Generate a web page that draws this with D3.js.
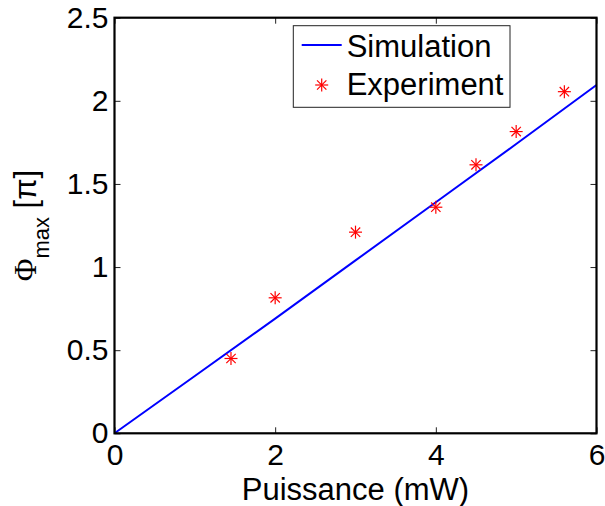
<!DOCTYPE html>
<html><head><meta charset="utf-8">
<script src="https://cdn.jsdelivr.net/npm/d3@7"></script>
<style>body{margin:0;background:#fff;}svg{display:block;}</style>
</head><body>
<svg id="c" width="605" height="506"></svg>
<script>
const simX = [0, 1, 2, 3, 4, 5, 6];
const simY = [0, 0.345, 0.69, 1.04, 1.39, 1.74, 2.095];
const expX = [1.45, 2, 3, 4, 4.5, 5, 5.6];
const expY = [0.45, 0.815, 1.21, 1.36, 1.615, 1.815, 2.055];
const xTicks = [0, 2, 4, 6];
const yTicks = [0, 0.5, 1, 1.5, 2, 2.5];
const xLabel = "Puissance (mW)";
const legendLabels = ["Simulation", "Experiment"];

const svg = d3.select("#c");
const L = 114.5, T = 17.7, R = 596.5, B = 433.3;
const x = d3.scaleLinear().domain([0, 6]).range([L, R]);
const y = d3.scaleLinear().domain([0, 2.5]).range([B, T]);
const font = "'Liberation Sans', Arial, sans-serif";
const fs = 31, tfs = 30;

function styleAxis(g){
  g.select(".domain").remove();
  g.selectAll(".tick line").attr("stroke", "#222").attr("stroke-width", 1);
  g.selectAll("text").attr("font-family", font).attr("font-size", tfs).attr("fill", "#000");
}
const fmt = d => d3.format("")(d);
svg.append("g").attr("transform", `translate(0,${B})`)
  .call(d3.axisBottom(x).tickValues(xTicks).tickFormat(fmt).tickSizeInner(-6).tickSizeOuter(0).tickPadding(10.5))
  .call(styleAxis);
svg.append("g").attr("transform", `translate(0,${T})`)
  .call(d3.axisTop(x).tickValues(xTicks).tickFormat("").tickSizeInner(-6).tickSizeOuter(0))
  .call(styleAxis);
svg.append("g").attr("transform", `translate(${L},0)`)
  .call(d3.axisLeft(y).tickValues(yTicks).tickFormat(fmt).tickSizeInner(-6).tickSizeOuter(0).tickPadding(6))
  .call(styleAxis);
svg.append("g").attr("transform", `translate(${R},0)`)
  .call(d3.axisRight(y).tickValues(yTicks).tickFormat("").tickSizeInner(-6).tickSizeOuter(0))
  .call(styleAxis);

const simData = simX.map((d, i) => [d, simY[i]]);
svg.append("path").datum(simData)
  .attr("fill", "none").attr("stroke", "#0000ff").attr("stroke-width", 2)
  .attr("d", d3.line().x(d => x(d[0])).y(d => y(d[1])));

function star(g, cx, cy, r){
  const s = g.append("g").attr("transform", `translate(${cx},${cy})`)
    .attr("stroke", "#ff0000").attr("stroke-width", 1.2);
  s.append("line").attr("x1", -r).attr("x2", r).attr("y1", 0).attr("y2", 0);
  s.append("line").attr("x1", 0).attr("x2", 0).attr("y1", -r).attr("y2", r);
  const k = r * 0.72;
  s.append("line").attr("x1", -k).attr("x2", k).attr("y1", -k).attr("y2", k);
  s.append("line").attr("x1", -k).attr("x2", k).attr("y1", k).attr("y2", -k);
}
const pts = svg.append("g");
expX.forEach((d, i) => star(pts, x(d), y(expY[i]), 6.5));

svg.append("rect").attr("x", L).attr("y", T).attr("width", R - L).attr("height", B - T)
  .attr("fill", "none").attr("stroke", "#000").attr("stroke-width", 2.2);

svg.append("text").attr("x", (L + R) / 2).attr("y", 500).attr("text-anchor", "middle")
  .attr("font-family", font).attr("font-size", fs).text(xLabel);

const yl = svg.append("text").attr("transform", `translate(36,${(T + B) / 2}) rotate(-90)`)
  .attr("text-anchor", "middle").attr("font-family", font).attr("font-size", fs);
yl.append("tspan").attr("font-family", "'Liberation Serif', 'Times New Roman', serif").text("Φ");
yl.append("tspan").attr("font-size", 22).attr("dy", 13).text("max");
yl.append("tspan").attr("dy", -13).text(" [π]");

const lg = svg.append("g");
lg.append("rect").attr("x", 293.3).attr("y", 25.7).attr("width", 216.7).attr("height", 81.6)
  .attr("fill", "#fff").attr("stroke", "#222").attr("stroke-width", 1);
lg.append("line").attr("x1", 301.7).attr("x2", 341.7).attr("y1", 45).attr("y2", 45)
  .attr("stroke", "#0000ff").attr("stroke-width", 2);
star(lg, 321.7, 85, 6.5);
lg.append("text").attr("x", 346.7).attr("y", 56.5).attr("font-family", font).attr("font-size", fs).text(legendLabels[0]);
lg.append("text").attr("x", 346.7).attr("y", 95).attr("font-family", font).attr("font-size", fs).text(legendLabels[1]);
</script>
</body></html>
